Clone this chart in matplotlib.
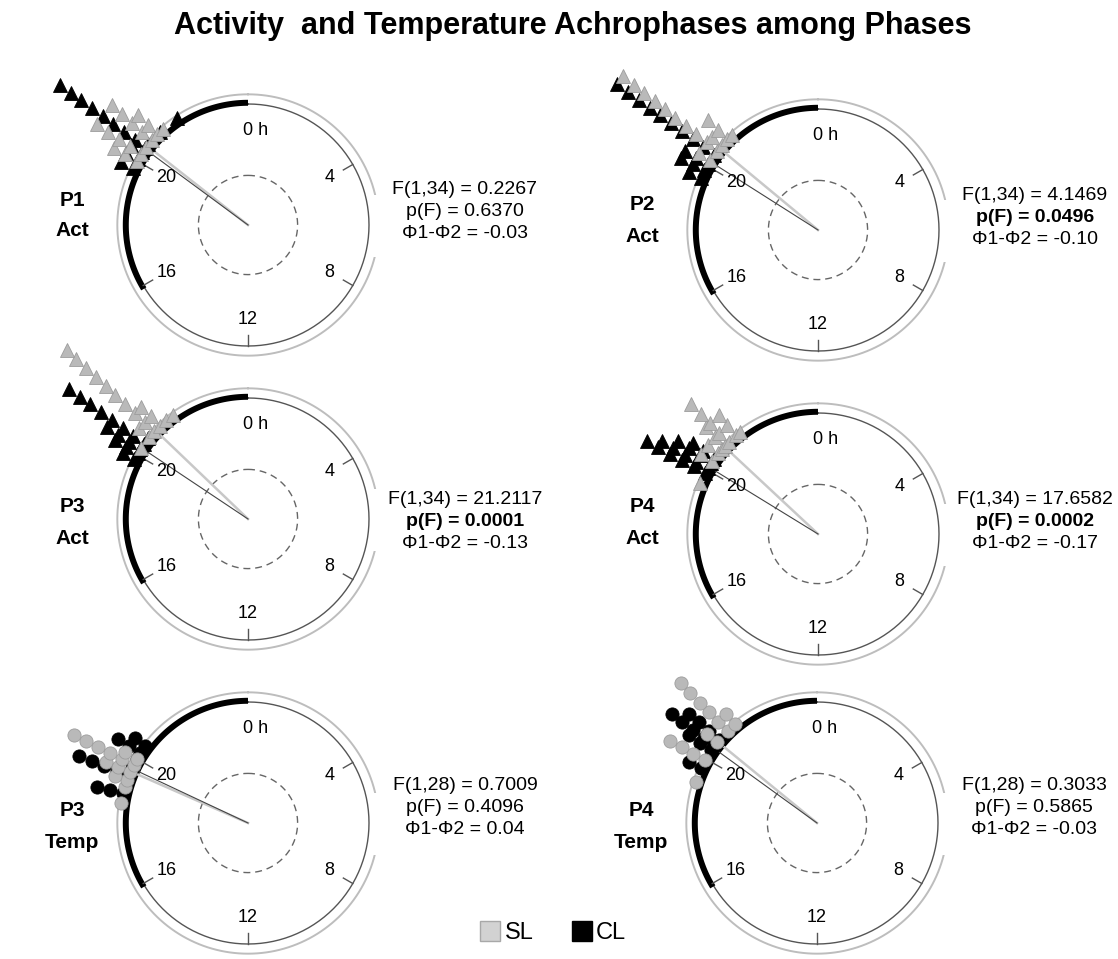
"""Activity / temperature achrophases per phase - stacked circular dot plots."""
import numpy as np
import matplotlib
matplotlib.use("Agg")
import matplotlib.pyplot as plt
from matplotlib.lines import Line2D
from matplotlib.patches import Rectangle

plt.rcParams["font.family"] = ["Liberation Sans", "DejaVu Sans"]

W, H = 1118, 959

# ---- data: individual achrophases (h), identical values stack outward ----
P1_ACT_SL = [20.0, 20.0, 20.0, 20.25, 20.25, 20.25, 20.25, 20.25, 20.5,
             20.75, 20.75, 20.75, 20.75, 20.75, 21.0, 21.0, 21.0, 21.25]
P1_ACT_CL = [19.75, 19.75, 20.05, 20.05, 20.3, 20.3, 20.45, 20.45, 20.45,
             20.45, 20.45, 20.45, 20.45, 20.45, 20.45, 20.6, 21.1, 21.75]
P2_ACT_SL = [20.2, 20.2, 20.55, 20.55, 20.55, 20.55, 20.55, 20.55, 20.55,
             20.55, 20.55, 20.55, 20.75, 20.75, 21.0, 21.0, 21.0, 21.2]
P2_ACT_CL = [19.6, 19.6, 19.85, 19.85, 19.85, 20.05, 20.05, 20.05, 20.4,
             20.4, 20.4, 20.4, 20.4, 20.4, 20.4, 20.4, 20.4, 20.4]
P3_ACT_SL = [20.25, 20.65, 20.65, 20.87, 20.87, 20.87, 20.87, 20.87, 20.87,
             20.87, 20.87, 20.87, 20.87, 21.1, 21.1, 21.1, 21.35, 21.6]
P3_ACT_CL = [19.85, 19.85, 20.05, 20.05, 20.05, 20.2, 20.2, 20.2, 20.2,
             20.4, 20.4, 20.4, 20.4, 20.4, 20.4, 20.4, 20.4, 20.6]
P4_ACT_SL = [19.55, 20.3, 20.3, 20.6, 20.6, 20.75, 20.9, 20.9, 20.9,
             21.05, 21.05, 21.05, 21.05, 21.05, 21.35, 21.35, 21.35, 21.5]
P4_ACT_CL = [19.9, 19.9, 19.9, 19.9, 19.9, 19.9, 20.05, 20.05, 20.05,
             20.05, 20.05, 20.25, 20.25, 20.25, 20.25, 20.4, 20.4, 20.4]
P3_TEMP_SL = [18.6, 19.1, 19.3, 19.3, 19.55, 19.55, 19.55, 19.8, 19.8,
              19.8, 19.8, 19.8, 19.8, 20.0, 20.0]
P3_TEMP_CL = [18.9, 18.9, 18.9, 19.45, 19.45, 19.45, 19.45, 19.45, 19.7,
              20.0, 20.2, 20.2, 20.2, 20.45, 20.45]
P4_TEMP_SL = [19.25, 19.95, 19.95, 19.95, 19.95, 20.6, 20.6, 21.05, 21.05,
              21.05, 21.05, 21.05, 21.05, 21.35, 21.35]
P4_TEMP_CL = [19.7, 19.7, 20.3, 20.3, 20.3, 20.45, 20.45, 20.45, 20.45,
              20.45, 20.55, 20.7, 20.7, 20.7, 20.7]

PANEL_NAMES = [("P1", "Act"), ("P2", "Act"), ("P3", "Act"),
               ("P4", "Act"), ("P3", "Temp"), ("P4", "Temp")]
SL_DATA = [P1_ACT_SL, P2_ACT_SL, P3_ACT_SL, P4_ACT_SL, P3_TEMP_SL, P4_TEMP_SL]
CL_DATA = [P1_ACT_CL, P2_ACT_CL, P3_ACT_CL, P4_ACT_CL, P3_TEMP_CL, P4_TEMP_CL]
F_TEXT = ["F(1,34) = 0.2267", "F(1,34) = 4.1469", "F(1,34) = 21.2117",
          "F(1,34) = 17.6582", "F(1,28) = 0.7009", "F(1,28) = 0.3033"]
P_TEXT = ["p(F) = 0.6370", "p(F) = 0.0496", "p(F) = 0.0001",
          "p(F) = 0.0002", "p(F) = 0.4096", "p(F) = 0.5865"]
SIGNIF = [False, True, True, True, False, False]
DIFF_TEXT = ["Φ1-Φ2 = -0.03", "Φ1-Φ2 = -0.10", "Φ1-Φ2 = -0.13",
             "Φ1-Φ2 = -0.17", "Φ1-Φ2 = 0.04", "Φ1-Φ2 = -0.03"]
HOUR_TICKS = [0, 4, 8, 12, 16, 20]
DARK_START, DARK_END = 16, 24

# layout (pixels, origin top-left)
CENTERS = [(248, 225), (818, 230), (248, 519), (818, 534), (248, 823), (817, 823)]
TEXT_Y = [190, 195, 500, 500, 785, 785]            # y of the F(...) line
LABEL_Y = [(200, 231), (205, 236), (507, 538), (507, 538), (810, 842), (810, 842)]
RPX = 121
R0, STEP = 1.06, 0.11


def h2t(h):
    return np.asarray(h, dtype=float) / 24.0 * 2 * np.pi


def stack(phases):
    seen = {}
    rs = []
    for p in phases:
        k = seen.get(p, 0)
        seen[p] = k + 1
        rs.append(R0 + k * STEP)
    return h2t(phases), np.array(rs)


def mean_vec(phases):
    t = h2t(phases)
    c, s = np.cos(t).mean(), np.sin(t).mean()
    return np.arctan2(s, c), np.hypot(c, s)


def px(x, y):
    return x / W, 1 - y / H


fig = plt.figure(figsize=(W / 100, H / 100), dpi=100)
fig.text(573 / W, 1 - 26 / H, "Activity  and Temperature Achrophases among Phases",
         ha="center", va="center", fontsize=22, fontweight="bold")

full = np.linspace(0, 2 * np.pi, 361)
for i, (cx, cy) in enumerate(CENTERS):
    ax = fig.add_axes([(cx - RPX) / W, 1 - (cy + RPX) / H, 2 * RPX / W, 2 * RPX / H],
                      projection="polar")
    ax.set_theta_zero_location("N")
    ax.set_theta_direction(-1)
    ax.set_ylim(0, 1)
    ax.axis("off")

    ax.plot(full, np.full_like(full, 1.08), color="#bdbdbd", lw=1.4, clip_on=False)
    ax.plot(full, np.ones_like(full), color="#555555", lw=1.0, clip_on=False)
    ax.plot(full, np.full_like(full, 0.41), color="#666666", lw=1.0,
            ls=(0, (5, 3.5)), clip_on=False)
    arc = np.linspace(h2t(DARK_START - 0.1), h2t(DARK_END), 120)
    ax.plot(arc, np.full_like(arc, 1.01), color="black", lw=4.3,
            solid_capstyle="butt", clip_on=False)
    for hr in HOUR_TICKS[1:]:
        ax.plot([h2t(hr)] * 2, [0.91, 1.0], color="#555555", lw=1.0, clip_on=False)
        ax.text(h2t(hr), 0.78, str(hr), ha="center", va="center", fontsize=13)
    ax.annotate("0 h", xy=(0, 0.78), xytext=(5.5, 0), textcoords="offset points",
                ha="center", va="center", fontsize=13)

    # mean vectors
    for data, col, lw in ((SL_DATA[i], "#c8c8c8", 1.8), (CL_DATA[i], "#444444", 0.8)):
        ang, rl = mean_vec(data)
        ax.plot([ang, ang], [0, rl], color=col, lw=lw, clip_on=False)

    temp = PANEL_NAMES[i][1] == "Temp"
    mk, ms = ("o", 9.5) if temp else ("^", 10)
    t, r = stack(CL_DATA[i])
    ax.plot(t, r, ls="none", marker=mk, ms=ms, mfc="black", mec="black",
            mew=0.6, clip_on=False, zorder=5)
    t, r = stack(SL_DATA[i])
    ax.plot(t, r, ls="none", marker=mk, ms=ms, mfc="#b9b9b9", mec="#9c9c9c",
            mew=0.6, clip_on=False, zorder=6)

    # white gap in the outer ring behind the statistics
    x0, y0 = px(cx + 124, cy + 32)
    fig.add_artist(Rectangle((x0, y0), 20 / W, 62 / H, transform=fig.transFigure,
                             facecolor="white", edgecolor="none", zorder=2))

    # statistics text
    tx, ty = cx + 217, TEXT_Y[i]
    fig.text(*px(tx, ty), F_TEXT[i], ha="center", va="center", fontsize=14)
    fig.text(*px(tx, ty + 22), P_TEXT[i], ha="center", va="center", fontsize=14,
             fontweight="bold" if SIGNIF[i] else "normal")
    fig.text(*px(tx, ty + 44), DIFF_TEXT[i], ha="center", va="center", fontsize=14)

    # panel label
    lx = cx - 176
    fig.text(*px(lx, LABEL_Y[i][0]), PANEL_NAMES[i][0], ha="center", va="center",
             fontsize=15, fontweight="bold")
    fig.text(*px(lx, LABEL_Y[i][1]), PANEL_NAMES[i][1], ha="center", va="center",
             fontsize=15, fontweight="bold")

handles = [Line2D([], [], ls="none", marker="s", ms=15, mfc="#d2d2d2", mec="#a8a8a8"),
           Line2D([], [], ls="none", marker="s", ms=15, mfc="black", mec="black")]
fig.legend(handles, ["SL", "CL"], loc="center", bbox_to_anchor=px(553, 933),
           ncol=2, frameon=False, fontsize=17, handlelength=0.9,
           handletextpad=0.15, columnspacing=1.6)

fig.savefig("out.png", dpi=100)
